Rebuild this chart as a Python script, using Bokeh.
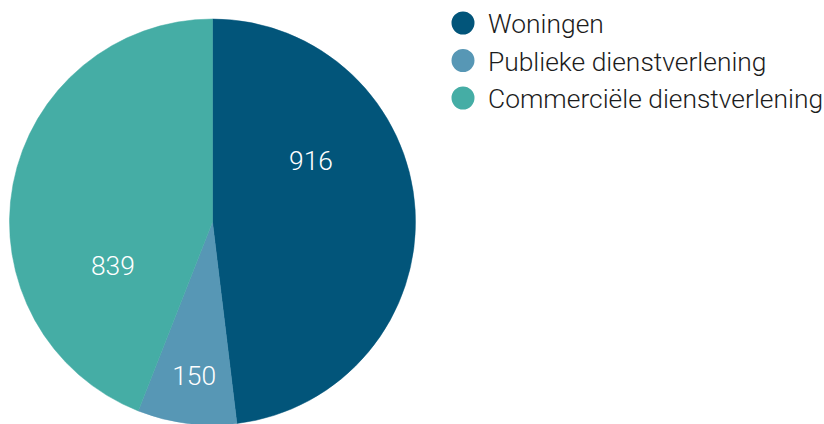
import math
from bokeh.plotting import figure
from bokeh.models import Range1d, ColumnDataSource
from bokeh.core.properties import value
from bokeh.embed import file_html
from bokeh.resources import INLINE

# ---- data ----
categories = ["Woningen", "Publieke dienstverlening", "Commerciële dienstverlening"]
counts = [916, 150, 839]
colors = ["#02557A", "#5797B5", "#45ADA5"]
labels = ["916", "150", "839"]

# ---- layout constants ----
W, H = 824, 424
def sx(x): return x                    # screen x -> data x
def sy(y): return H - y                # screen y -> data y

CX, CY, R = sx(212), sy(221.5), 203
label_frac = [0.359, 0.47, 0.257]     # position of label within slice angular span
label_rfrac = [0.549, 0.807, 0.555]   # label distance as fraction of radius
TEXT_SHIFT = 9.5                      # baseline correction for svg text
FONT = "Roboto Light"
FS = "26.4px"

total = sum(counts)
starts, ends = [], []
acc = 0.0
for c in counts:
    starts.append(acc / total * 360.0)
    acc += c
    ends.append(acc / total * 360.0)

start_rad = [math.radians(90 - s) for s in starts]
end_rad = [math.radians(90 - e) for e in ends]

p = figure(width=W, height=H, output_backend="svg", toolbar_location=None,
           x_range=Range1d(0, W), y_range=Range1d(0, H),
           min_border=0, outline_line_color=None)
p.axis.visible = False
p.grid.visible = False
p.background_fill_color = "white"
p.border_fill_color = "white"

src = ColumnDataSource(dict(x=[CX] * len(counts), y=[CY] * len(counts),
                            start=start_rad, end=end_rad, color=colors))
p.wedge(x="x", y="y", radius=R, start_angle="start", end_angle="end",
        direction="clock", fill_color="color", line_color="color", line_width=0.5,
        source=src)

lx, ly = [], []
for s, e, f, rf in zip(starts, ends, label_frac, label_rfrac):
    th = math.radians(s + f * (e - s))
    lx.append(CX + rf * R * math.sin(th))
    ly.append(CY + rf * R * math.cos(th) + TEXT_SHIFT)
p.text(x=lx, y=ly, text=labels, text_color="white", text_font=value(FONT),
       text_font_size=FS, text_align="center", text_baseline="alphabetic")

LEG_X, LEG_R = sx(462.5), 11.5
leg_y = [sy(22.5 + i * 37.5) for i in range(len(categories))]
p.scatter(x=[LEG_X] * len(categories), y=leg_y, size=2 * LEG_R, marker="circle",
          fill_color=colors, line_color=None)
p.text(x=[LEG_X + 25] * len(categories), y=[yy - 10.8 + TEXT_SHIFT for yy in leg_y],
       text=categories, text_color="#1c1c1c", text_font=value(FONT), text_font_size=FS,
       text_align="left", text_baseline="alphabetic")

open("out.html", "w").write(file_html(p, INLINE))
